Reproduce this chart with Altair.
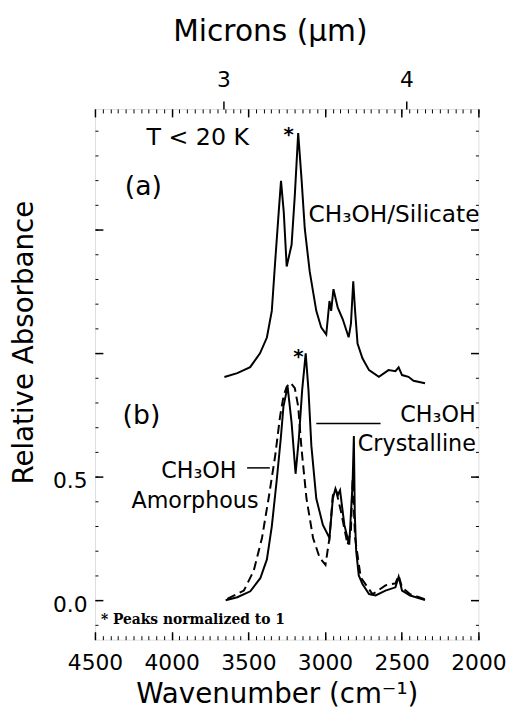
import altair as alt
import pandas as pd

# ---------------- data ----------------
# (a) CH3OH / Silicate (offset spectrum)
wn_a = [3656, 3572, 3488, 3424, 3379, 3347, 3325, 3302, 3287, 3269, 3250, 3218, 3197, 3175, 3153,
        3132, 3100, 3057, 3025, 2992, 2971, 2960, 2945, 2917, 2885, 2846, 2831, 2816, 2804, 2788,
        2756, 2713, 2649, 2586, 2541, 2520, 2498, 2456, 2423, 2348]
abs_a = [0.904, 0.920, 0.944, 1.000, 1.064, 1.172, 1.372, 1.572, 1.699, 1.572, 1.352, 1.440, 1.640, 1.892, 1.705,
         1.505, 1.332, 1.172, 1.105, 1.076, 1.212, 1.172, 1.260, 1.185, 1.139, 1.065, 1.120, 1.292, 1.172, 1.040,
         0.980, 0.932, 0.905, 0.932, 0.928, 0.943, 0.912, 0.905, 0.889, 0.879]

# (b) CH3OH crystalline (solid)
wn_cr = [3648, 3572, 3487, 3422, 3379, 3347, 3314, 3289, 3271, 3244, 3218, 3192, 3171, 3149, 3126,
         3108, 3089, 3057, 3014, 2971, 2949, 2932, 2917, 2902, 2874, 2842, 2820, 2812, 2806, 2797,
         2780, 2756, 2713, 2670, 2606, 2541, 2520, 2498, 2445, 2391, 2348]
abs_cr = [0.000, 0.012, 0.036, 0.089, 0.165, 0.299, 0.492, 0.652, 0.785, 0.865, 0.719, 0.512, 0.652, 0.852, 1.000,
          0.852, 0.625, 0.412, 0.305, 0.252, 0.412, 0.452, 0.425, 0.445, 0.305, 0.225, 0.479, 0.665, 0.350, 0.200,
          0.100, 0.065, 0.025, 0.019, 0.039, 0.052, 0.095, 0.039, 0.019, 0.009, 0.000]

# (b) CH3OH amorphous (dashed)
wn_am = [3637, 3529, 3465, 3411, 3368, 3325, 3293, 3271, 3250, 3224, 3197, 3175, 3153, 3121, 3078,
         3035, 2997, 2971, 2949, 2928, 2896, 2853, 2831, 2820, 2804, 2767, 2691, 2670, 2606, 2541,
         2520, 2498, 2445, 2348]
abs_am = [0.005, 0.039, 0.119, 0.252, 0.412, 0.585, 0.745, 0.825, 0.865, 0.881, 0.859, 0.785, 0.612, 0.412, 0.252,
          0.172, 0.143, 0.252, 0.425, 0.445, 0.359, 0.225, 0.285, 0.492, 0.252, 0.092, 0.025, 0.032, 0.060, 0.068,
          0.100, 0.052, 0.024, 0.004]

# axis ticks / labels
wavenumber_ticks = [4500, 4000, 3500, 3000, 2500, 2000]
wavenumber_minor = list(range(2000, 4501, 50))
micron_labels = ["3", "4"]
micron_tick_wn = [3662, 2470]
y_ticks = [0.0, 0.5, 1.0, 1.5]
y_labelled = [0.0, 0.5]
y_minor = [round(-0.1 + 0.1 * i, 1) for i in range(21)]

# annotations (wavenumber, absorbance, text)
ann_T = [(3830, 1.844, "T < 20 K")]
ann_panel = [(4184, 1.672, "(a)"), (4197, 0.744, "(b)")]
ann_sil = [(3108, 1.532, "CH₃OH/Silicate")]
ann_left = [(2509, 0.720, "CH₃OH"), (2786, 0.604, "Crystalline"),
            (4068, 0.496, "CH₃OH"), (4262, 0.372, "Amorphous")]
ann_star = [(3237, 1.884, "*"), (3173, 0.985, "*")]
ann_note = [(4461, -0.08, "* Peaks normalized to 1")]
pointer_lines = [(3057, 2638, 0.716), (3508, 3360, 0.536)]

# ---------------- chart ----------------
W, H = 388, 537
FONT = "DejaVu Sans"

xs = alt.Scale(domain=[2000, 4500], reverse=True, nice=False, zero=False)
ys = alt.Scale(domain=[-0.16, 1.99], nice=False, zero=False)

df_a = pd.DataFrame({"wn": wn_a, "ab": abs_a})
df_cr = pd.DataFrame({"wn": wn_cr, "ab": abs_cr})
df_am = pd.DataFrame({"wn": wn_am, "ab": abs_am})

common = dict(domain=False, grid=False, tickColor="black", labelColor="black",
              titleColor="black", labelFont=FONT, titleFont=FONT)


def X(axis):
    return alt.X("wn:Q", scale=xs, axis=axis)


def Y(axis):
    return alt.Y("ab:Q", scale=ys, axis=axis)


ax_x_main = alt.Axis(orient="bottom", values=wavenumber_ticks, ticks=False, format="d",
                     labelFontSize=22, labelPadding=13, labelFlush=False, labelOverlap=False,
                     title="Wavenumber (cm⁻¹)", titleFontSize=28, titleFontWeight="normal",
                     titlePadding=8, titleX=184, **common)
ax_x_bot_major = alt.Axis(orient="top", offset=-H, values=wavenumber_ticks, tickSize=8, tickWidth=1.5,
                          labels=False, title=None, **common)
ax_x_bot_minor = alt.Axis(orient="top", offset=-H, values=wavenumber_minor, tickSize=4, tickWidth=1,
                          labels=False, title=None, **common)
ax_x_top_major = alt.Axis(orient="bottom", offset=-H, values=wavenumber_ticks, tickSize=8, tickWidth=1.5,
                          labels=False, title=None, **common)
ax_x_top_minor = alt.Axis(orient="bottom", offset=-H, values=wavenumber_minor, tickSize=4, tickWidth=1,
                          labels=False, title=None, **common)
micron_expr = f"datum.value == {micron_tick_wn[0]} ? '{micron_labels[0]}' : '{micron_labels[1]}'"
ax_x_micron = alt.Axis(orient="top", values=micron_tick_wn, labelExpr=micron_expr, tickSize=8, tickWidth=1.5,
                       labelFontSize=22, labelPadding=10, labelFlush=False, labelOverlap=False,
                       title="Microns (µm)", titleFontSize=30, titleFontWeight="normal",
                       titlePadding=22, titleX=177, **common)

ax_y_main = alt.Axis(orient="left", values=y_labelled, ticks=False, format=".1f",
                     labelFontSize=22, labelPadding=8, labelOffset=4, title="Relative Absorbance",
                     titleFontSize=28, titleFontWeight="normal", titlePadding=14, titleY=236, **common)
ax_y_left_major = alt.Axis(orient="right", offset=-W, values=y_ticks, tickSize=8, tickWidth=1.5,
                           labels=False, title=None, **common)
ax_y_right_major = alt.Axis(orient="left", offset=-W, values=y_ticks, tickSize=8, tickWidth=1.5,
                            labels=False, title=None, **common)
ax_y_left_minor = alt.Axis(orient="right", offset=-W, values=y_minor, tickSize=3, tickWidth=1,
                           labels=False, title=None, **common)
ax_y_right_minor = alt.Axis(orient="left", offset=-W, values=y_minor, tickSize=3, tickWidth=1,
                            labels=False, title=None, **common)

line_a = alt.Chart(df_a).mark_line(color="black", strokeWidth=2).encode(
    x=X(ax_x_main), y=Y(ax_y_main), order="wn:Q")
line_cr = alt.Chart(df_cr).mark_line(color="black", strokeWidth=2).encode(
    x=X(ax_x_bot_major), y=Y(ax_y_left_major))
line_am = alt.Chart(df_am).mark_line(color="black", strokeWidth=2, strokeDash=[9, 5]).encode(
    x=X(ax_x_bot_minor), y=Y(ax_y_right_major))
ghost1 = alt.Chart(df_a).mark_line(opacity=0).encode(x=X(ax_x_top_major), y=Y(ax_y_left_minor))
ghost2 = alt.Chart(df_a).mark_line(opacity=0).encode(x=X(ax_x_top_minor), y=Y(ax_y_right_minor))
ghost3 = alt.Chart(df_a).mark_line(opacity=0).encode(x=X(ax_x_micron), y=Y(None))


def text_layer(rows, size, align="left", baseline="alphabetic", font=FONT, weight="normal"):
    d = pd.DataFrame(rows, columns=["wn", "ab", "label"])
    return alt.Chart(d).mark_text(align=align, baseline=baseline, fontSize=size, font=font,
                                  fontWeight=weight, color="black").encode(
        x=X(None), y=Y(None), text="label:N")


t_T = text_layer(ann_T, 24, align="center")
t_panel = text_layer(ann_panel, 27, align="center", baseline="middle")
t_sil = text_layer(ann_sil, 23.5)
t_left = text_layer(ann_left, 22.5)
t_star = text_layer(ann_star, 20, align="center", baseline="middle", weight="bold")
t_note = text_layer(ann_note, 14, baseline="middle", font="DejaVu Serif", weight="bold")

pl = pd.DataFrame(pointer_lines, columns=["wn", "wn2", "ab"])
rules = alt.Chart(pl).mark_rule(color="black", strokeWidth=1.5).encode(
    x=X(None), x2="wn2:Q", y=Y(None))

chart = alt.layer(
    line_a, line_cr, line_am, ghost1, ghost2, ghost3,
    rules, t_T, t_panel, t_sil, t_left, t_star, t_note
).resolve_axis(x="independent", y="independent").properties(
    width=W, height=H,
    autosize=alt.AutoSizeParams(type="none"),
    padding={"left": 88, "top": 98, "right": 34, "bottom": 68},
).configure_view(stroke="black", strokeWidth=1.5).configure(background="white")

chart.save("out.html", embed_options={"renderer": "svg", "actions": False})
